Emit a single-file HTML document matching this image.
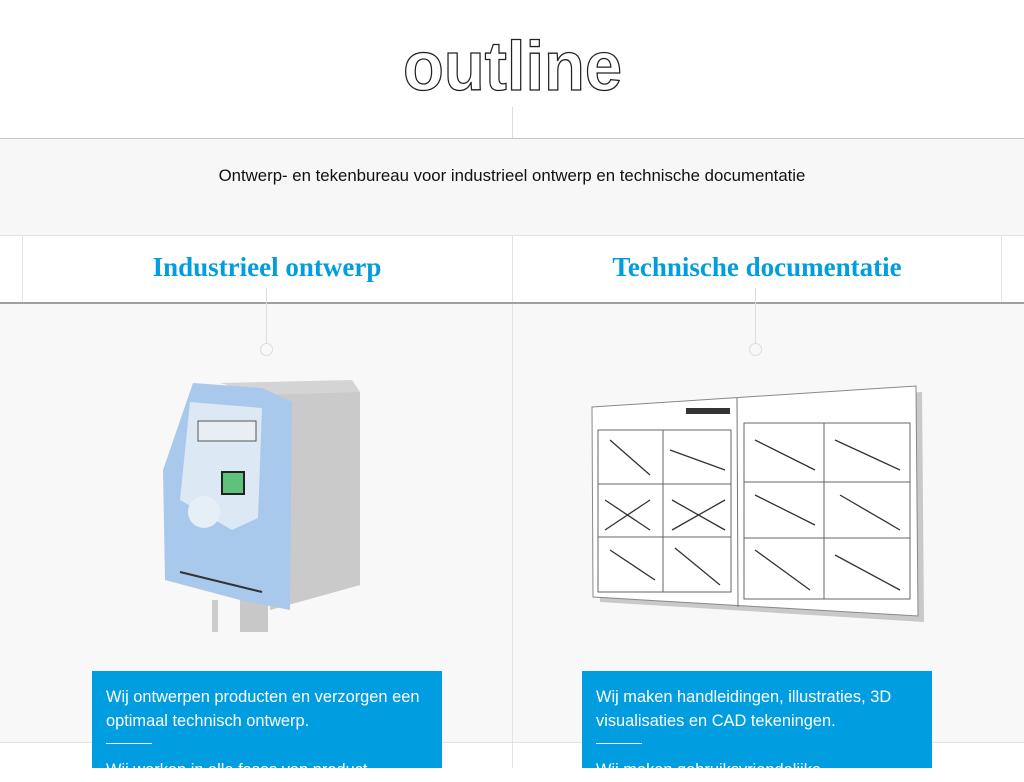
<!DOCTYPE html>
<html><head><meta charset="utf-8"><style>
*{margin:0;padding:0;box-sizing:border-box}
body{width:1024px;height:768px;overflow:hidden;background:#fff;font-family:"Liberation Sans",sans-serif;position:relative}
.a{position:absolute}
.t{position:absolute;font-family:"Liberation Serif",serif;font-weight:bold;color:#009de0;font-size:27px;text-align:center;width:490px;top:252px}
.box{position:absolute;background:#009de0;color:#fff;width:350px;top:671px;height:97px;padding:14px 14px;font-size:16.4px;line-height:24px}
.box hr{border:none;border-top:1px solid #fff;width:46px;margin:10px 0 14px}
</style></head><body>
<div class="a" style="left:0;top:0;width:1024px;height:138px;background:#fff"></div>
<svg class="a" style="left:395px;top:20px" width="240" height="80"><text x="8" y="70" font-family="Liberation Sans" font-weight="bold" font-size="70" fill="#fff" stroke="#222" stroke-width="1.3" textLength="219" lengthAdjust="spacingAndGlyphs">outline</text></svg>
<div class="a" style="left:512px;top:107px;width:1px;height:31px;background:#ddd"></div>
<div class="a" style="left:0;top:138px;width:1024px;height:1px;background:#c8c8c8"></div>
<div class="a" style="left:0;top:139px;width:1024px;height:96px;background:#f7f7f7"></div>
<div class="a" style="left:0;top:166px;width:1024px;text-align:center;font-size:16.8px;color:#111">Ontwerp- en tekenbureau voor industrieel ontwerp en technische documentatie</div>
<div class="a" style="left:0;top:235px;width:1024px;height:1px;background:#e3e3e3"></div>
<div class="a" style="left:22px;top:236px;width:1px;height:66px;background:#e3e3e3"></div>
<div class="a" style="left:512px;top:236px;width:1px;height:66px;background:#e3e3e3"></div>
<div class="a" style="left:1001px;top:236px;width:1px;height:66px;background:#e3e3e3"></div>
<div class="t" style="left:22px">Industrieel ontwerp</div>
<div class="t" style="left:512px">Technische documentatie</div>
<div class="a" style="left:0;top:302px;width:1024px;height:2px;background:#a0a0a0"></div>
<div class="a" style="left:0;top:304px;width:1024px;height:438px;background:#f8f8f8"></div>
<div class="a" style="left:512px;top:304px;width:1px;height:464px;background:#e3e3e3"></div>
<div class="a" style="left:0;top:742px;width:1024px;height:1px;background:#e3e3e3"></div>
<div class="a" style="left:266px;top:288px;width:1px;height:55px;background:#ddd"></div>
<div class="a" style="left:755px;top:288px;width:1px;height:55px;background:#ddd"></div>
<div class="a" style="left:260px;top:343px;width:13px;height:13px;border:1px solid #ddd;border-radius:50%"></div>
<div class="a" style="left:749px;top:343px;width:13px;height:13px;border:1px solid #ddd;border-radius:50%"></div>
<svg class="a" style="left:0;top:0" width="1024" height="768">
<rect x="212" y="600" width="6" height="32" fill="#ccc"/><rect x="240" y="600" width="28" height="32" fill="#c8c8c8"/>
<polygon points="220,383 352,380 360,392 360,585 270,610 262,395" fill="#d4d4d4"/>
<polygon points="264,395 360,392 360,585 270,610" fill="#cacaca"/>
<polygon points="193,383 262,388 292,402 290,610 240,600 165,580 163,470" fill="#a8c9ec"/>
<polygon points="190,402 262,408 258,518 232,530 180,500" fill="#dce8f4"/>
<rect x="198" y="421" width="58" height="20" fill="#e8eef3" stroke="#555" stroke-width="1"/>
<rect x="222" y="472" width="22" height="22" fill="#5ec27c" stroke="#222" stroke-width="2"/>
<circle cx="204" cy="512" r="16" fill="#e6eef6"/>
<line x1="180" y1="572" x2="262" y2="592" stroke="#333" stroke-width="2"/>
<polygon points="606,410 922,392 924,622 600,602" fill="#aaa" opacity=".6"/>
<polygon points="592,407 916,386 918,616 593,597" fill="#fff" stroke="#888" stroke-width="1"/>
<line x1="737" y1="398" x2="738" y2="607" stroke="#777"/>
<g fill="none" stroke="#666" stroke-width="1">
<rect x="598" y="430" width="133" height="162"/><line x1="663" y1="430" x2="663" y2="592"/><line x1="598" y1="484" x2="731" y2="484"/><line x1="598" y1="537" x2="731" y2="537"/>
<rect x="744" y="423" width="166" height="176"/><line x1="824" y1="423" x2="824" y2="599"/><line x1="744" y1="482" x2="910" y2="482"/><line x1="744" y1="538" x2="910" y2="538"/>
</g>
<rect x="686" y="408" width="44" height="6" fill="#333"/>
<g stroke="#333" stroke-width="1.3" fill="none">
<path d="M605 500 L650 530 M605 530 L650 500 M672 500 L725 530 M672 530 L725 500 M610 550 L655 580 M675 548 L720 585 M755 440 L815 470 M835 440 L900 470 M755 495 L815 525 M840 495 L900 530 M755 550 L810 590 M835 555 L900 590 M610 440 L650 475 M670 450 L725 470"/>
</g>
</svg>
<div class="box" style="left:92px">Wij ontwerpen producten en verzorgen een optimaal technisch ontwerp.<hr>Wij werken in alle fases van product</div>
<div class="box" style="left:582px">Wij maken handleidingen, illustraties, 3D visualisaties en CAD tekeningen.<hr>Wij maken gebruiksvriendelijke</div>
</body></html>
